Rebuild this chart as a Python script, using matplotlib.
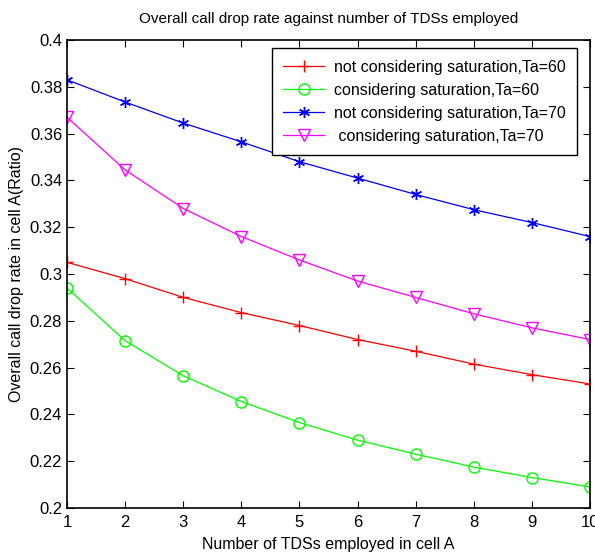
import matplotlib
matplotlib.use("Agg")
import matplotlib.pyplot as plt

plt.rcParams['font.family'] = ['Liberation Sans', 'DejaVu Sans']

tds = [1, 2, 3, 4, 5, 6, 7, 8, 9, 10]
not_sat_60 = [0.305, 0.298, 0.290, 0.2835, 0.278, 0.272, 0.267, 0.2615, 0.257, 0.253]
sat_60 = [0.294, 0.2715, 0.2565, 0.2455, 0.2365, 0.229, 0.223, 0.2175, 0.213, 0.209]
not_sat_70 = [0.383, 0.3735, 0.3645, 0.3565, 0.348, 0.341, 0.334, 0.3275, 0.322, 0.316]
sat_70 = [0.367, 0.3445, 0.328, 0.316, 0.306, 0.297, 0.290, 0.283, 0.277, 0.272]
yticks = [0.2, 0.22, 0.24, 0.26, 0.28, 0.3, 0.32, 0.34, 0.36, 0.38, 0.4]
ylabels = ['0.2', '0.22', '0.24', '0.26', '0.28', '0.3', '0.32', '0.34', '0.36', '0.38', '0.4']

fig = plt.figure(figsize=(5.95, 5.56), dpi=100)
ax = fig.add_axes([0.1126, 0.0863, 0.879, 0.8417])

ax.plot(tds, not_sat_60, color='red', marker='+', ms=9, lw=0.9,
        label='not considering saturation,Ta=60')
ax.plot(tds, sat_60, color='#00ff00', marker='o', ms=8, mfc='none', lw=0.9,
        label='considering saturation,Ta=60')
ax.plot(tds, not_sat_70, color='blue', marker=(6, 2, 0), ms=8, mew=1.0, lw=0.9,
        label='not considering saturation,Ta=70')
ax.plot(tds, sat_70, color='magenta', marker='v', ms=9, mfc='none', lw=0.9,
        label=' considering saturation,Ta=70')

ax.set_xlim(1, 10)
ax.set_ylim(0.2, 0.4)
ax.set_xticks(tds)
ax.set_yticks(yticks)
ax.set_yticklabels(ylabels)
ax.tick_params(direction='in', top=True, right=True, labelsize=12, length=5)
ax.tick_params(axis='x', pad=5)
for s in ax.spines.values():
    s.set_linewidth(1.2)

ax.set_title('Overall call drop rate against number of TDSs employed', fontsize=11, pad=12)
ax.set_xlabel('Number of TDSs employed in cell A', fontsize=11.5, labelpad=5)
ax.set_ylabel('Overall call drop rate in cell A(Ratio)', fontsize=11.5, labelpad=4)

leg = ax.legend(loc='upper right', bbox_to_anchor=(0.99, 0.999), fontsize=11.5,
                fancybox=False, framealpha=1, edgecolor='black',
                handlelength=2.6, handletextpad=0.6, borderpad=0.7, labelspacing=0.5,
                borderaxespad=0.5)
leg.get_frame().set_linewidth(1.0)

fig.savefig('out.png', dpi=100)
